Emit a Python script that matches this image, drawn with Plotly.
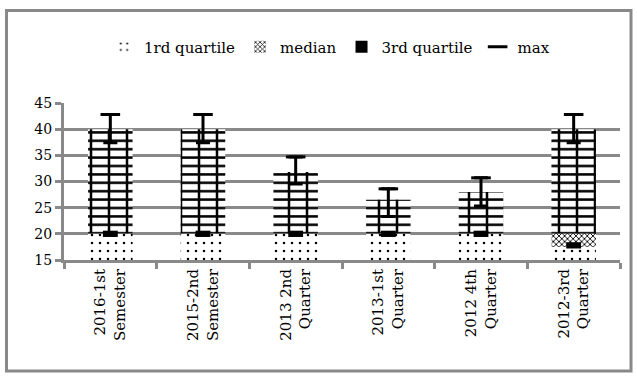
import plotly.graph_objects as go

categories = ["2016-1st<br>Semester", "2015-2nd<br>Semester", "2013 2nd<br>Quarter",
              "2013-1st<br>Quarter", "2012 4th<br>Quarter", "2012-3rd<br>Quarter"]
first_quartile = [20, 20, 20, 20, 20, 17.5]
median = [20, 20, 20, 20, 20, 20]
third_quartile = [20, 20, 20, 20, 20, 17.8]
bar_top = [40, 40, 31.8, 26.5, 28, 40]
max_high = [42.8, 42.8, 34.7, 28.6, 30.7, 42.8]
max_low = [37.4, 37.4, 29.5, 23.3, 25.3, 37.4]
y_ticks = [15, 20, 25, 30, 35, 40, 45]

AXIS_MIN = 15
GRAY = "#898989"
FONT = "DejaVu Serif"
BAR_W = 0.48

fig = go.Figure()

# brick segment (median -> top), drawn as horizontal + vertical line patterns
brick_h = [t - m for t, m in zip(bar_top, median)]
fig.add_trace(go.Bar(
    x=categories, y=brick_h, base=median, width=BAR_W, showlegend=False,
    marker=dict(color="white", line=dict(width=0),
                pattern=dict(shape="-", fgcolor="black", bgcolor="white",
                             size=8.4, solidity=0.3, fillmode="replace")),
    hoverinfo="skip"))
fig.add_trace(go.Bar(
    x=categories, y=brick_h, base=median, width=BAR_W, showlegend=False,
    marker=dict(color="rgba(0,0,0,0)", line=dict(width=0),
                pattern=dict(shape="|", fgcolor="black", bgcolor="rgba(0,0,0,0)",
                             fgopacity=1, size=18, solidity=0.14, fillmode="overlay")),
    hoverinfo="skip"))

# 1st quartile (dots)
fig.add_trace(go.Bar(
    name="1rd quartile", x=categories, y=[q - AXIS_MIN for q in first_quartile],
    base=[AXIS_MIN] * len(categories), width=BAR_W,
    marker=dict(color="white", line=dict(width=0),
                pattern=dict(shape=".", fgcolor="black", bgcolor="white",
                             size=8, solidity=0.08, fillmode="replace"))))

# median (checker)
fig.add_trace(go.Bar(
    name="median", x=categories, y=[m - q for m, q in zip(median, first_quartile)],
    base=first_quartile, width=BAR_W,
    marker=dict(color="white", line=dict(width=0),
                pattern=dict(shape="x", fgcolor="black", bgcolor="white",
                             size=4, solidity=0.4, fillmode="replace"))))

# 3rd quartile (black mark)
MARK_H = 1.2
fig.add_trace(go.Bar(
    name="3rd quartile", x=categories, y=[MARK_H] * len(categories),
    base=[q - MARK_H / 2 for q in third_quartile], width=0.16,
    marker=dict(color="black", line=dict(width=0))))

# max whisker
fig.add_trace(go.Scatter(
    name="max", x=categories, y=max_high, mode="markers",
    marker=dict(symbol="line-ew", size=14, color="black",
                line=dict(color="black", width=3)),
    error_y=dict(type="data", symmetric=False, array=[0] * len(categories),
                 arrayminus=[h - l for h, l in zip(max_high, max_low)],
                 color="black", thickness=3, width=7)))

W, H = 637, 378
L, R, T, B = 64, 17, 103, 118
pw, ph = W - L - R, H - T - B


def px_x(x):
    return (x - L) / pw


def px_y(y):
    return (H - B - y) / ph


fig.add_shape(type="rect", xref="paper", yref="paper",
              x0=px_x(6.5), x1=px_x(631), y0=px_y(371), y1=px_y(10.5),
              line=dict(color=GRAY, width=3), fillcolor="rgba(0,0,0,0)")

fig.update_layout(
    width=W, height=H, margin=dict(l=L, r=R, t=T, b=B),
    barmode="overlay", plot_bgcolor="white", paper_bgcolor="white",
    font=dict(family=FONT, color="black"),
    legend=dict(orientation="h", x=px_x(104), y=px_y(47), xanchor="left",
                yanchor="middle", font=dict(family=FONT, size=15, color="black"),
                bgcolor="rgba(0,0,0,0)", itemwidth=30, traceorder="normal"),
    xaxis=dict(type="category", range=[-0.5, 5.5], showgrid=False, showline=True,
               linecolor=GRAY, linewidth=3, ticks="outside", tickson="boundaries",
               ticklen=6, tickwidth=3, tickcolor=GRAY, tickangle=-90,
               tickfont=dict(family=FONT, size=15, color="black"),
               automargin=False, zeroline=False),
    yaxis=dict(range=[15, 45], tickvals=y_ticks, showgrid=True, gridcolor=GRAY,
               gridwidth=3, showline=True, linecolor=GRAY, linewidth=3,
               ticks="outside", ticklen=6, tickwidth=3, tickcolor=GRAY,
               tickfont=dict(family=FONT, size=14, color="black"),
               automargin=False, zeroline=False),
)

fig.write_html("out.html", config={"displayModeBar": False},
               post_script="document.body.style.margin='0';document.body.style.overflow='hidden';")
